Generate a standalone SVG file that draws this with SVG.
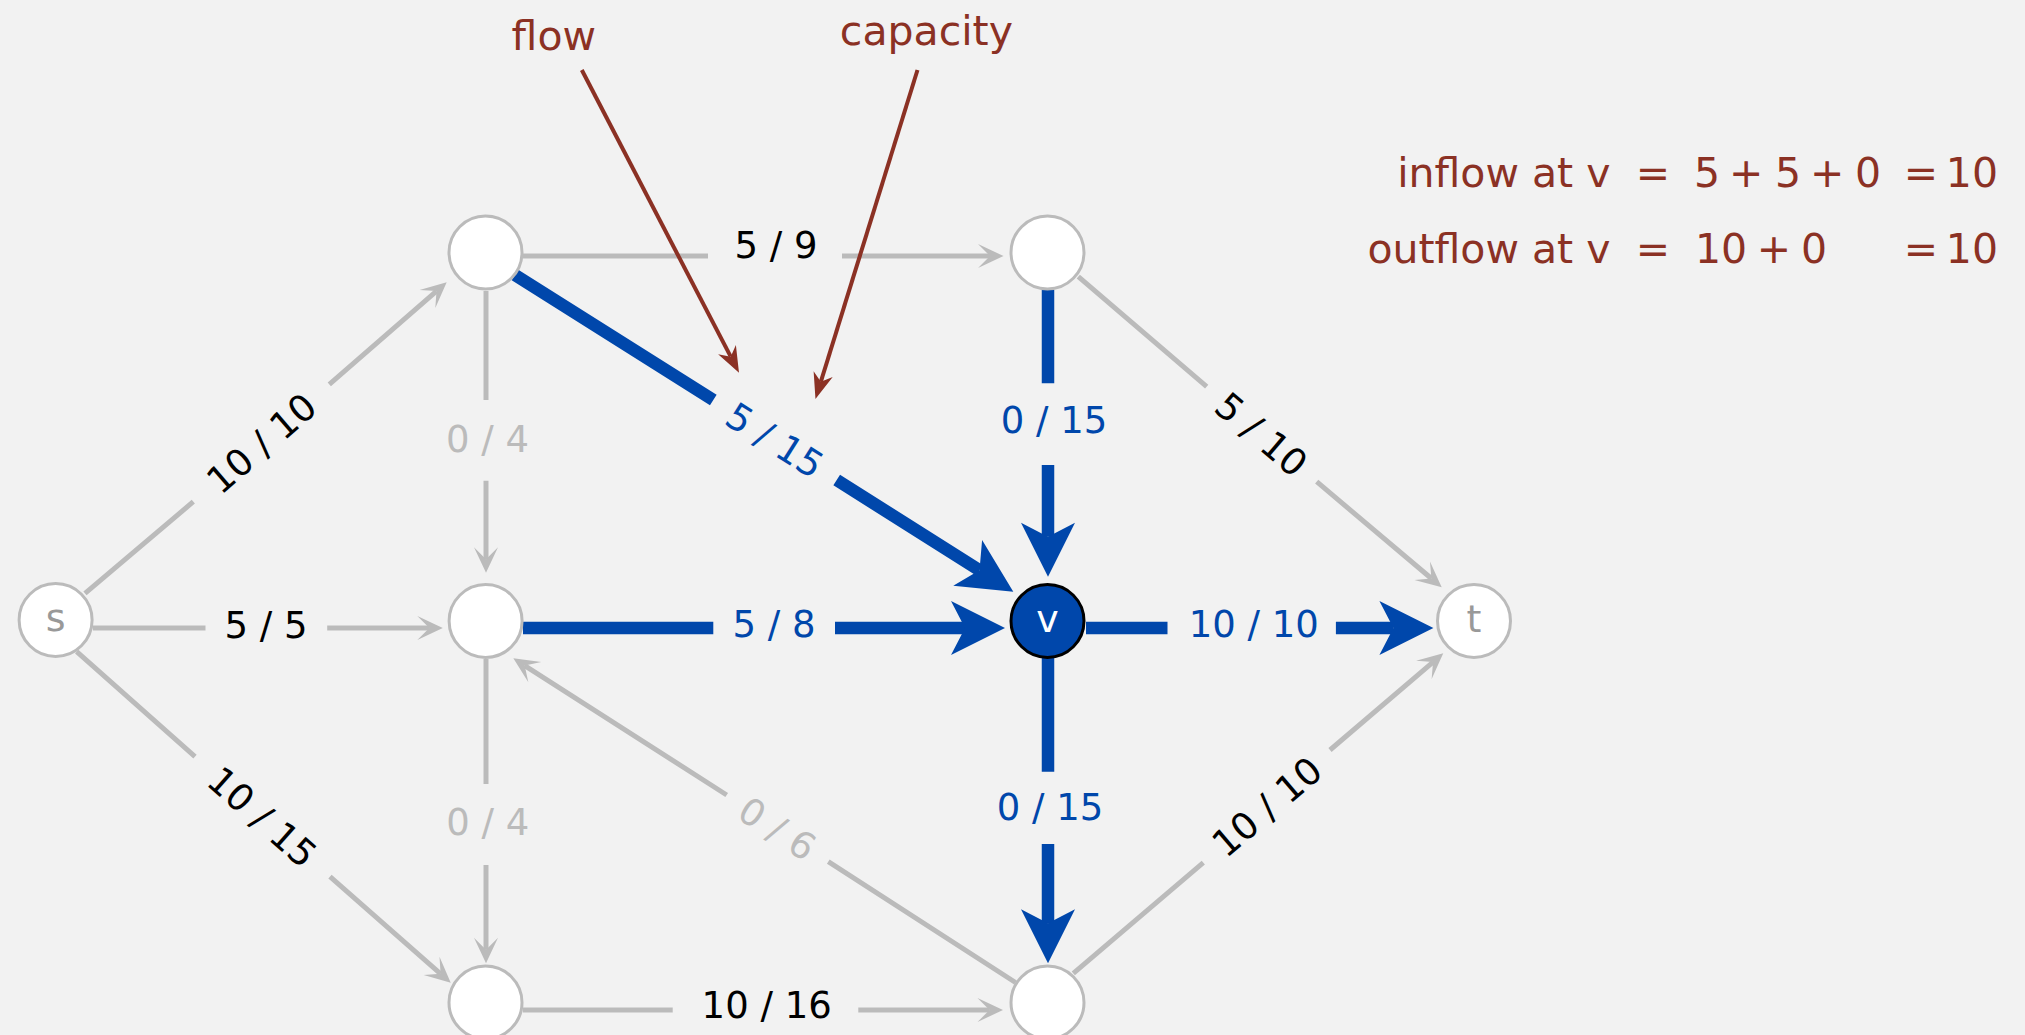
<svg xmlns="http://www.w3.org/2000/svg" width="2025" height="1035" viewBox="0 0 2025 1035">
<style>
.e{fill:none;stroke:#bbbbbb;stroke-width:5;marker-end:url(#ag)}
.b{fill:none;stroke:#0047ab;stroke-width:12.5;marker-end:url(#ab)}
.r{fill:none;stroke:#8b3124;stroke-width:4;marker-end:url(#ar)}
.n{fill:#ffffff;stroke:#bbbbbb;stroke-width:3}
.lbl{font-family:"DejaVu Sans","Liberation Sans",sans-serif;font-size:37px;text-anchor:middle}
.k{fill:#000000}.bl{fill:#0047ab}.g{fill:#bbbbbb}
.an{font-family:"DejaVu Sans","Liberation Sans",sans-serif;font-size:41px;fill:#8b3124}
.nl{font-family:"DejaVu Sans","Liberation Sans",sans-serif;font-size:38px;text-anchor:middle;fill:#999999}
</style>
<defs>
<marker id="ag" markerUnits="userSpaceOnUse" orient="auto" viewBox="-25 -25 50 50" markerWidth="50" markerHeight="50" refX="0" refY="0"><path d="M13.5,0 L-12,-12 L0,0 L-12,12 Z" fill="#bbbbbb"/></marker>
<marker id="ab" markerUnits="userSpaceOnUse" orient="auto" viewBox="-60 -60 120 120" markerWidth="120" markerHeight="120" refX="0" refY="0"><path d="M40,0 L-14,-27 L0,0 L-14,27 Z" fill="#0047ab"/></marker>
<marker id="ar" markerUnits="userSpaceOnUse" orient="auto" viewBox="-30 -30 60 60" markerWidth="60" markerHeight="60" refX="0" refY="0"><path d="M18,0 L-8,-10 L0,0 L-8,10 Z" fill="#8b3124"/></marker>
</defs>
<rect x="0" y="0" width="2025" height="1035" fill="#f2f2f2"/>
<g id="connectors">
<path class="e" d="M85,593.3 L193.3,501.7 M329.3,384.3 L436.5,291.1"/>
<path class="e" d="M93,628 L205.5,628 M327.2,628 L429.3,628"/>
<path class="e" d="M76.7,651.7 L195,756.7 M330,876.7 L440.6,973.8"/>
<path class="e" d="M486,291 L486,400 M486,480.7 L486,559.2"/>
<path class="e" d="M486,659 L486,784 M486,865 L486,949.8"/>
<path class="e" d="M523,256 L708,256 M842,256 L990,256"/>
<path class="e" d="M1078.3,276.7 L1206.7,386.7 M1316.7,481.7 L1431.4,578.5"/>
<path class="e" d="M1073.3,973.3 L1203.3,862.7 M1330,750 L1433,662.1"/>
<path class="e" d="M1015.5,982.5 L828.3,861.7 M726.7,795 L524.7,665.6"/>
<path class="e" d="M523,1010 L672.7,1010 M858.3,1010 L989.5,1010"/>
<path class="b" d="M515,275 L713.3,400 M836.7,480 L979.5,570.3"/>
<path class="b" d="M523,628 L713.3,628 M835,628 L965,628"/>
<path class="b" d="M1048,290 L1048,383.3 M1048,465 L1048,536.7"/>
<path class="b" d="M1086,628 L1167.5,628 M1335.9,628 L1393.4,628"/>
<path class="b" d="M1048,658 L1048,771.7 M1048,844 L1048,923.3"/>
<path class="r" d="M581.8,70 L730.7,356.7"/>
<path class="r" d="M917.5,70 L820.8,381.8"/>
</g>
<g id="edge-labels">
<text class="lbl k" transform="translate(261.3,443) rotate(-40.8)" y="13.5">10 / 10</text>
<text class="lbl k" x="266" y="637.7">5 / 5</text>
<text class="lbl k" transform="translate(262.5,816.7) rotate(41.4)" y="13.5">10 / 15</text>
<text class="lbl g" x="487.5" y="451.7">0 / 4</text>
<text class="lbl g" x="487.8" y="835">0 / 4</text>
<text class="lbl k" x="776" y="258.3">5 / 9</text>
<text class="lbl k" transform="translate(1261.7,434.2) rotate(40.4)" y="13.5">5 / 10</text>
<text class="lbl k" transform="translate(1266.7,806.4) rotate(-40.5)" y="13.5">10 / 10</text>
<text class="lbl g" transform="translate(777.5,828.4) rotate(32.7)" y="13.5">0 / 6</text>
<text class="lbl k" x="766.7" y="1018">10 / 16</text>
<text class="lbl bl" transform="translate(775,440) rotate(32.3)" y="13.5">5 / 15</text>
<text class="lbl bl" x="774" y="637">5 / 8</text>
<text class="lbl bl" x="1054" y="433.3">0 / 15</text>
<text class="lbl bl" x="1253.8" y="636.7">10 / 10</text>
<text class="lbl bl" x="1050" y="820">0 / 15</text>
</g>
<g id="node-s"><circle class="n" cx="55.6" cy="620" r="36.5"/><text class="nl" x="55.6" y="631">s</text></g>
<g id="node-a"><circle class="n" cx="485.5" cy="252.5" r="36.5"/></g>
<g id="node-b"><circle class="n" cx="485.6" cy="621" r="36.5"/></g>
<g id="node-c"><circle class="n" cx="485.5" cy="1002.5" r="36.5"/></g>
<g id="node-d"><circle class="n" cx="1047.5" cy="252.5" r="36.5"/></g>
<g id="node-e"><circle class="n" cx="1047.5" cy="1002.5" r="36.5"/></g>
<g id="node-v"><circle cx="1047.5" cy="621" r="36.5" fill="#0047ab" stroke="#000000" stroke-width="3"/><text class="nl" x="1047.5" y="631.7" style="fill:#ffffff">v</text></g>
<g id="node-t"><circle class="n" cx="1474" cy="621" r="36.5"/><text class="nl" x="1474" y="631.7">t</text></g>
<g id="annotations">
<text class="an" x="553.8" y="50" text-anchor="middle">flow</text>
<text class="an" x="926.4" y="45" text-anchor="middle">capacity</text>
<text class="an" x="1610.5" y="186.7" text-anchor="end">inflow at v</text>
<text class="an" x="1653" y="186.7" text-anchor="middle">=</text>
<text class="an" x="1694 1720 1729 1763 1775 1801 1810 1844 1855" y="186.7">5 + 5 + 0</text>
<text class="an" x="1921" y="186.7" text-anchor="middle">=</text>
<text class="an" x="1998" y="186.7" text-anchor="end">10</text>
<text class="an" x="1610.5" y="263.3" text-anchor="end">outflow at v</text>
<text class="an" x="1653" y="263.3" text-anchor="middle">=</text>
<text class="an" x="1695 1721.1 1747 1756.8 1791 1801" y="263.3">10 + 0</text>
<text class="an" x="1921" y="263.3" text-anchor="middle">=</text>
<text class="an" x="1998" y="263.3" text-anchor="end">10</text>
</g>
</svg>
